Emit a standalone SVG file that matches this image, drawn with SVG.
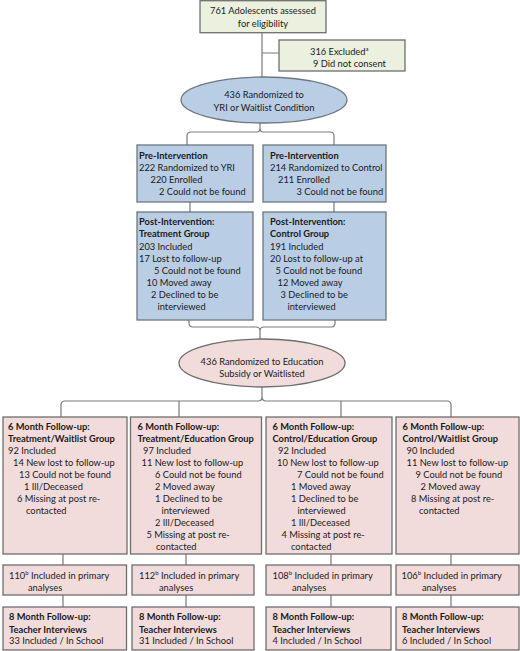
<svg xmlns="http://www.w3.org/2000/svg" width="520" height="651" viewBox="0 0 520 651">
<style>
text{font-family:Lato,"Liberation Sans",sans-serif;font-size:9.3px;fill:#1a1a1a}
.b{font-weight:bold}
.c{text-anchor:middle}
.sup{font-size:6px}
.g{fill:#ebf1de;stroke:#6e6e6e;stroke-width:1.3}
.bl{fill:#b9cde5;stroke:#6e7680;stroke-width:1.3}
.pk{fill:#f2dcdb;stroke:#6e6e6e;stroke-width:1.3}
.ln{fill:none;stroke:#7a7a7a;stroke-width:1.2}
</style>
<g id="connectors">
<path class="ln" d="M262 33V77M262 53H279"/>
<path class="ln" d="M187 145V136Q187 132 191 132H257Q260 132 260 128V123M260 128Q260 132 263 132H330Q334 132 334 136V145"/>
<path class="ln" d="M190 202V212M334 202V212"/>
<path class="ln" d="M189 320V323Q189 327 193 327H256Q260 327 260 331V339M260 331Q260 327 264 327H331Q335 327 335 323V320"/>
<path class="ln" d="M61 417V405Q61 401 65 401H258Q262 401 262 397V387M262 397Q262 401 266 401H447Q451 401 451 405V417M179 401V417M341 401V417"/>
<path class="ln" d="M63 554V565M186 554V565M331 554V565M451 554V565"/>
<path class="ln" d="M63 595V607M186 595V607M331 595V607M451 595V607"/>
</g>
<g id="n-assessed">
<rect class="g" x="200" y="0.7" width="126" height="32"/>
<text class="c" x="263" y="14">761 Adolescents assessed</text>
<text class="c" x="263" y="27">for eligibility</text>
</g>
<g id="n-excluded">
<rect class="g" x="279" y="40" width="126" height="31"/>
<text x="310" y="55">316 Excluded<tspan class="sup" dy="-4">a</tspan></text>
<text x="313" y="67">9 Did not consent</text>
</g>
<g id="n-rand1">
<ellipse class="bl" cx="264" cy="100" rx="83" ry="23"/>
<text class="c" x="264" y="98">436 Randomized to</text>
<text class="c" x="264" y="111">YRI or Waitlist Condition</text>
</g>
<g id="n-pre-yri">
<rect class="bl" x="137" y="145" width="116" height="57"/>
<text class="b" x="139" y="159">Pre-Intervention</text>
<text x="139" y="171">222 Randomized to YRI</text>
<text x="150.5" y="183">220 Enrolled</text>
<text x="159" y="195">2 Could not be found</text>
</g>
<g id="n-pre-ctl">
<rect class="bl" x="263" y="145" width="123" height="57"/>
<text class="b" x="270" y="159">Pre-Intervention</text>
<text x="270" y="171">214 Randomized to Control</text>
<text x="278" y="183">211 Enrolled</text>
<text x="296.5" y="195">3 Could not be found</text>
</g>
<g id="n-post-trt">
<rect class="bl" x="137" y="212" width="116" height="108"/>
<text class="b" x="139" y="225">Post-Intervention:</text>
<text class="b" x="139" y="237">Treatment Group</text>
<text x="139" y="249.5">203 Included</text>
<text x="139" y="261.5">17 Lost to follow-up</text>
<text x="154" y="273.5">5 Could not be found</text>
<text x="146.5" y="285.5">10 Moved away</text>
<text x="151" y="298">2 Declined to be</text>
<text x="157.5" y="310">interviewed</text>
</g>
<g id="n-post-ctl">
<rect class="bl" x="263" y="212" width="123" height="108"/>
<text class="b" x="270" y="225">Post-Intervention:</text>
<text class="b" x="270" y="237">Control Group</text>
<text x="270" y="249.5">191 Included</text>
<text x="270" y="261.5">20 Lost to follow-up at</text>
<text x="275.5" y="273.5">5 Could not be found</text>
<text x="277.5" y="285.5">12 Moved away</text>
<text x="280.5" y="298">3 Declined to be</text>
<text x="287.5" y="310">interviewed</text>
</g>
<g id="n-rand2">
<ellipse class="pk" cx="262" cy="363" rx="83" ry="24"/>
<text class="c" x="262" y="365">436 Randomized to Education</text>
<text class="c" x="262" y="377">Subsidy or Waitlisted</text>
</g>
<g id="n-6m-tw">
<rect class="pk" x="3" y="417" width="124" height="137"/>
<text class="b" x="8" y="430">6 Month Follow-up:</text>
<text class="b" x="8" y="442">Treatment/Waitlist Group</text>
<text x="8" y="453.5">92 Included</text>
<text x="13" y="466">14 New lost to follow-up</text>
<text x="19" y="478">13 Could not be found</text>
<text x="24" y="490">1 Ill/Deceased</text>
<text x="17" y="502">6 Missing at post re-</text>
<text x="26" y="514">contacted</text>
</g>
<g id="n-6m-te">
<rect class="pk" x="130.5" y="417" width="131" height="137"/>
<text class="b" x="137.5" y="430">6 Month Follow-up:</text>
<text class="b" x="137.5" y="442">Treatment/Education Group</text>
<text x="143" y="453.5">97 Included</text>
<text x="141.5" y="466">11 New lost to follow-up</text>
<text x="155" y="478">6 Could not be found</text>
<text x="155" y="490">2 Moved away</text>
<text x="155" y="502">1 Declined to be</text>
<text x="161.5" y="514">interviewed</text>
<text x="155" y="526">2 Ill/Deceased</text>
<text x="146.5" y="538">5 Missing at post re-</text>
<text x="156" y="550">contacted</text>
</g>
<g id="n-6m-ce">
<rect class="pk" x="266" y="417" width="126" height="137"/>
<text class="b" x="272.5" y="430">6 Month Follow-up:</text>
<text class="b" x="272.5" y="442">Control/Education Group</text>
<text x="278" y="453.5">92 Included</text>
<text x="277" y="466">10 New lost to follow-up</text>
<text x="297" y="478">7 Could not be found</text>
<text x="291" y="490">1 Moved away</text>
<text x="291" y="502">1 Declined to be</text>
<text x="297.5" y="514">interviewed</text>
<text x="291" y="526">1 Ill/Deceased</text>
<text x="281.5" y="538">4 Missing at post re-</text>
<text x="291" y="550">contacted</text>
</g>
<g id="n-6m-cw">
<rect class="pk" x="396" y="417" width="123" height="137"/>
<text class="b" x="402.5" y="430">6 Month Follow-up:</text>
<text class="b" x="402.5" y="442">Control/Waitlist Group</text>
<text x="406.5" y="453.5">90 Included</text>
<text x="406.5" y="466">11 New lost to follow-up</text>
<text x="415.5" y="478">9 Could not be found</text>
<text x="420.5" y="490">2 Moved away</text>
<text x="411" y="502">8 Missing at post re-</text>
<text x="419" y="514">contacted</text>
</g>
<g id="n-pa-1">
<rect class="pk" x="3" y="565" width="123.5" height="30"/>
<text x="9" y="578.5">110<tspan class="sup" dy="-4">b</tspan><tspan dy="4"> Included in primary</tspan></text>
<text x="28" y="590.5">analyses</text>
</g>
<g id="n-pa-2">
<rect class="pk" x="132" y="565" width="122" height="30"/>
<text x="139" y="578.5">112<tspan class="sup" dy="-4">b</tspan><tspan dy="4"> Included in primary</tspan></text>
<text x="159" y="590.5">analyses</text>
</g>
<g id="n-pa-3">
<rect class="pk" x="266" y="565" width="125" height="30"/>
<text x="272.5" y="578.5">108<tspan class="sup" dy="-4">b</tspan><tspan dy="4"> Included in primary</tspan></text>
<text x="292" y="590.5">analyses</text>
</g>
<g id="n-pa-4">
<rect class="pk" x="396" y="565" width="123" height="30"/>
<text x="401.5" y="578.5">106<tspan class="sup" dy="-4">b</tspan><tspan dy="4"> Included in primary</tspan></text>
<text x="422" y="590.5">analyses</text>
</g>
<g id="n-8m-1">
<rect class="pk" x="3" y="607" width="123.5" height="43"/>
<text class="b" x="9" y="620">8 Month Follow-up:</text>
<text class="b" x="9" y="632.5">Teacher Interviews</text>
<text x="9" y="644">33 Included / In School</text>
</g>
<g id="n-8m-2">
<rect class="pk" x="132" y="607" width="122" height="43"/>
<text class="b" x="139" y="620">8 Month Follow-up:</text>
<text class="b" x="139" y="632.5">Teacher Interviews</text>
<text x="139" y="644">31 Included / In School</text>
</g>
<g id="n-8m-3">
<rect class="pk" x="266" y="607" width="125" height="43"/>
<text class="b" x="272.5" y="620">8 Month Follow-up:</text>
<text class="b" x="272.5" y="632.5">Teacher Interviews</text>
<text x="272.5" y="644">4 Included / In School</text>
</g>
<g id="n-8m-4">
<rect class="pk" x="396" y="607" width="123" height="43"/>
<text class="b" x="402" y="620">8 Month Follow-up:</text>
<text class="b" x="402" y="632.5">Teacher Interviews</text>
<text x="402" y="644">6 Included / In School</text>
</g>
</svg>
